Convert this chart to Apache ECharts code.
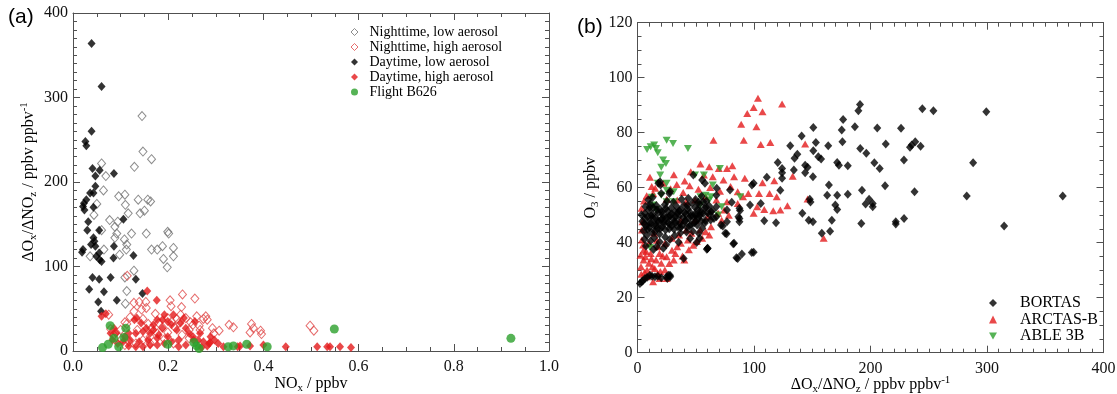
<!DOCTYPE html>
<html>
<head>
<meta charset="utf-8">
<script src="https://cdn.jsdelivr.net/npm/echarts@6/dist/echarts.min.js"></script>
<style>
  html, body { margin: 0; padding: 0; background: #fff; }
  #chart { width: 1117px; height: 394px; }
</style>
</head>
<body>
<div id="chart"></div>
<script>
// ---------- Panel (a): NOx [ppbv] vs dOx/dNOz ----------
const nightLow = [
  [0.145,278],[0.147,236],[0.165,227],[0.129,218],[0.060,222],[0.069,207],[0.064,190],[0.050,174],
  [0.044,161],[0.060,143],[0.096,183],[0.109,185],[0.110,173],[0.116,163],[0.137,179],[0.157,179],
  [0.163,177],[0.141,163],[0.150,166],[0.077,155],[0.094,153],[0.088,147],[0.092,139],[0.088,134],
  [0.108,132],[0.123,139],[0.112,120],[0.113,126],[0.065,120],[0.036,112],[0.154,139],[0.199,141],
  [0.201,139],[0.165,120],[0.177,120],[0.188,124],[0.211,122],[0.211,112],[0.190,109],[0.198,99],
  [0.128,95],[0.109,87],[0.113,71],[0.110,56],[0.098,114]
];
const nightHigh = [
  [0.230,67],[0.256,62],[0.204,60],[0.206,53],[0.228,52],[0.139,58],[0.114,89],[0.153,58],[0.128,57],
  [0.144,49],[0.113,32],[0.100,25],[0.090,22],[0.375,32],[0.379,27],[0.372,22],[0.394,24],[0.396,20],
  [0.498,30],[0.506,24],[0.328,31],[0.337,28],[0.307,24],[0.296,21],[0.279,41],[0.274,38],[0.260,41],
  [0.075,43],[0.128,47],[0.154,51],[0.173,44],[0.199,39],[0.226,43],[0.237,39],[0.282,37],[0.252,31],
  [0.244,25],[0.222,33],[0.207,35],[0.188,28],[0.177,21],[0.162,17],[0.147,13],[0.132,9],[0.117,11],
  [0.102,14],[0.086,19],[0.079,26],[0.109,34],[0.120,40],[0.147,38],[0.165,27],[0.180,33],[0.214,28],
  [0.199,22],[0.229,19],[0.267,25],[0.293,27],[0.244,15],[0.211,9],[0.162,9],[0.109,7],[0.135,25],
  [0.158,32],[0.192,14],[0.218,38],[0.247,34],[0.265,30]
];
const dayLow = [
  [0.039,364],[0.060,313],[0.039,260],[0.026,248],[0.028,243],[0.041,216],[0.056,214],[0.086,210],
  [0.047,207],[0.047,195],[0.036,187],[0.043,187],[0.028,179],[0.023,175],[0.024,167],[0.021,171],
  [0.043,170],[0.032,153],[0.030,143],[0.055,143],[0.106,156],[0.043,134],[0.045,130],[0.038,126],
  [0.021,120],[0.019,117],[0.047,124],[0.055,116],[0.049,112],[0.056,108],[0.060,106],[0.086,124],
  [0.127,113],[0.085,110],[0.041,87],[0.055,85],[0.079,87],[0.132,85],[0.034,73],[0.065,70],
  [0.146,68],[0.092,60],[0.053,58],[0.059,47]
];
const dayHigh = [
  [0.156,71],[0.176,60],[0.192,43],[0.134,39],[0.060,41],[0.069,44],[0.129,37],
  [0.132,21],[0.147,23],[0.162,21],[0.169,25],[0.180,19],[0.188,27],[0.177,15],[0.158,13],[0.139,11],
  [0.120,13],[0.105,11],[0.094,9],[0.083,13],[0.079,21],[0.086,27],[0.117,21],[0.199,35],[0.207,31],
  [0.218,25],[0.226,33],[0.237,27],[0.244,21],[0.252,17],[0.263,13],[0.274,11],[0.286,9],[0.267,21],
  [0.222,13],[0.207,11],[0.192,9],[0.177,7],[0.162,7],[0.147,5],[0.132,5],[0.117,6],[0.222,5],
  [0.237,7],[0.253,13],[0.288,10],[0.305,9],[0.297,13],[0.289,17],[0.188,37],[0.169,31],[0.154,27],
  [0.143,33],[0.233,39],[0.256,35],[0.211,43],[0.199,17],[0.177,37],[0.109,17],[0.090,21],[0.316,5],
  [0.346,5],[0.351,6],[0.372,6],[0.400,7],[0.447,5],[0.513,5],[0.534,5],[0.540,5],[0.561,5],
  [0.584,4],[0.282,6],[0.270,4]
];
const flightB626 = [
  [0.078,30],[0.111,27],[0.086,15],[0.107,16],[0.062,4],[0.074,8],[0.096,5],[0.199,8],[0.254,10],
  [0.260,6],[0.265,3],[0.326,5],[0.337,6],[0.365,8],[0.408,5],[0.549,26],[0.920,15]
];

// ---------- Panel (b): dOx/dNOz vs O3 [ppbv] ----------
const bortas = [
  [254,88],[244.5,88.7],[191,90.3],[189.6,88],[299.4,87.6],[176.5,84.8],[186.6,82.2],[205.8,81.7],
  [226.2,81.6],[150.9,81.9],[175.3,81],[140.9,78.8],[175.9,76.7],[153.1,76.4],[163.7,75.3],[131.1,75.3],
  [213.1,75.9],[243,75.1],[238.4,76.7],[235.4,75.5],[233.9,74.7],[191.2,74.3],[196.4,72.5],[150.9,73.4],
  [137.2,72.2],[134.8,70.7],[155.2,71.3],[157.6,70.4],[171.4,69.2],[172.9,68.2],[180.5,68],[203.3,69.1],
  [207.9,67],[228.7,70.1],[288.1,69.1],[120.4,69.2],[143.9,68.2],[146,67.4],[150.6,64],[143.9,65.4],
  [134.2,66.4],[124.1,65.4],[124.1,63.4],[124.1,67],[111,63.8],[98.2,61],[99.7,61.6],[212.5,60.7],
  [164.3,61],[122.6,59.1],[192.7,59.1],[237.8,58.5],[171.4,57.3],[180.5,57.6],[162.8,57.3],[282.6,57],
  [365,57],[198.8,55.8],[195.8,54.1],[201.9,54.3],[169.8,53.7],[171.4,52.1],[105.8,54.3],[96.6,53.7],
  [147.9,55.8],[148.5,54.8],[201.9,53.1],[87.5,52.5],[76.8,51.9],[141.5,50.7],[87.5,48.8],[87.5,47.6],
  [108.8,48],[118.9,47.3],[147,48.2],[150.6,47.6],[166.8,48.2],[192.1,47],[221.7,47.6],[221.7,46.8],
  [228.8,48.8],[314.7,46.1],[158.2,43.4],[165.3,44.2],[76.8,47.6],[73.2,46.1],[75.3,43.4],[82.9,39.8],
  [86,34.3],[89.6,35.9],[99.7,36.5],[60.1,37.9],[39.6,34.3],[26.5,28.2],[28.1,27.6],[25.6,27],
  [19.3,62.2],[19.8,61],[20.4,57.9],[27.4,57.9],[47.9,64.6],[55.5,62.8],[67.7,49.4],[67.7,53.1],
  [59.5,37.6],[53.4,41.6],[56.4,54.9],[63.1,51.3],[65.6,48.8],[67.7,57.3],[68,59.8],[79.4,59.2],
  [80.9,54.7],[88,51.7],[86.6,49.4],[71.7,46.4],[76.5,43.3],[82.2,39.6],[60.2,38],[84.9,34.5],
  [98.1,36.4],[22.2,38],[16.5,38.6],[5.9,41.3],[17.9,61.6],[27.9,58.6],[52.2,54.7],[57.9,61.6],
  [2.1,25.2],[3.6,25.8],[4.6,26.2],[6.4,27],[8.3,27.4],[10.7,28.2],[12.5,27.8],[15,27.6],[17.4,27.8],
  [20.4,27.3],[25,27.6],[27.9,28.2],
  [4.2,47.8],[5.1,44.3],[6.3,50.6],[6.8,53.2],[7.5,46.1],[8.1,42.7],[8.8,49.4],[9.6,51.8],[10.2,45.5],
  [10.9,54.1],[11.5,47.2],[12.3,43.8],[12.8,50.3],[13.6,52.7],[14.1,46.4],[14.9,44.1],[15.5,48.9],
  [16.2,53.5],[16.9,45.2],[17.6,50.8],[18.2,47.6],[18.9,43.2],[19.7,52.1],[20.3,48.4],[21.1,45.7],
  [21.8,50.2],[22.6,46.9],[23.4,53.8],[24.1,44.6],[24.8,49.1],[25.7,51.5],[26.3,47.3],[27.2,45.1],
  [28.0,49.8],[28.9,52.6],[29.6,46.2],[30.4,48.7],[31.3,44.9],[32.1,51.2],[33.0,47.5],[33.8,53.1],
  [34.7,45.8],[35.5,49.6],[36.4,47.1],[37.2,51.9],[38.1,46.3],[39.0,49.2],[39.9,53.6],[40.7,47.8],
  [41.6,50.4],[42.5,45.6],[43.3,52.3],[44.2,48.9],[45.1,51.1],[46.0,46.7],[46.8,54.4],[47.7,49.5],
  [48.6,47.2],[49.4,52.8],[50.3,50.1],[51.2,46.4],[52.1,48.7],[53.0,53.9],[53.8,51.4],[54.7,47.9],
  [55.6,45.3],[56.5,50.6],[57.4,52.5],[58.3,48.1],[59.2,55.2],[60.1,50.9],[61.4,53.4],[62.8,48.3],
  [64.3,51.7],[11.2,40.6],[14.4,41.8],[19.1,40.3],[23.7,42.1],[27.8,41.2],[31.9,42.6],[36.8,43.5],
  [42.1,43.9],[47.5,44.2],[52.6,43.4],[9.3,55.6],[12.9,56.4],[25.4,55.1],[30.8,54.7],[37.9,55.8],
  [43.6,56.2],[49.8,55.7],[55.1,56.9],[7.2,38.8],[13.7,37.5],[24.6,39.3],[35.3,40.2],[45.2,41.5],
  [50.8,40.1],[6.5,48.9],[9.9,47.4],[13.2,49.1],[17.3,47.9],[21.5,49.0],[26.8,49.4],[31.7,47.6],
  [35.9,51.6],[40.3,50.9],[44.8,46.1],[48.9,50.3],[53.4,49.8],[57.8,47.2],[20.8,51.3],[29.3,50.5],
  [3.4,50.2],[5.8,46.8],[8.4,44.9],[11.8,49.8],[15.8,46.3],[19.4,45.1],[23.1,47.8],[27.6,46.6],
  [32.6,49.4],[36.9,45.4],[41.2,48.1],[45.7,49.7],[50.1,47.9],[54.2,50.6],[58.9,52.9],[62.1,50.2],
  [10.5,52.9],[16.7,51.9],[24.3,52.4],[34.4,50.8],[42.9,53.5],[51.6,52.1]
];
const arctasB = [
  [103.4,92.5],[124.1,90.4],[99.7,89.2],[107.3,87.6],[94.2,87],[89,83.1],[102.1,82.2],[91.2,77.3],
  [65.2,77.3],[105.8,75.7],[114,76.4],[143.9,75.9],[133.2,64.2],[117.4,62.5],[107.3,61.8],[146,55.9],
  [159.8,41.6],[128.7,53.4],[122.6,51.9],[116.5,51.6],[108.8,52.1],[99.7,50.7],[102.7,53.1],[95.1,57.9],
  [90.6,56.7],[82.9,64],[81.4,68],[76.8,67],[69.8,67],[61.6,67.6],[54,68.6],[45.7,65.8],[57,64.6],
  [64.6,64],[73.8,62.8],[79.9,60.4],[86,58.5],[92.1,63.4],[104.3,57.9],[113.4,57.9],[119.5,56.7],
  [86,54.3],[76.8,54.9],[67.7,55.5],[58.5,56.7],[49.4,55.5],[41.8,54.9],[34.1,55.5],[25,55.8],
  [10.7,63.8],[12.2,60.4],[13.4,57.9],[4.3,47.6],[3.7,44.6],[15.2,59.8],[22,61.6],
  [3.7,41],[5.2,37.3],[6.7,34.9],[9.8,32.5],[8.2,30.1],[12.8,31.3],[15.9,33.7],[11.3,36.1],[18.9,36.1],
  [20.4,32.5],[23.5,30.1],[17.4,28.8],[18.9,27],[13.4,25.8],[25,34.9],[29.6,37.3],[34.1,38.5],
  [31.1,33.7],[40.2,33.7],[37.2,39.8],[43.3,41],[47.9,39.1],[50.9,40.4],[55.5,41.6],[58.5,44],
  [63.1,45.8],[61.6,42.8],[53.9,44.6],[46.3,43.4],[41.8,44.6],[35.7,42.8],[29.6,41.6],[23.5,39.8],
  [17.4,38.5],[9.8,39.8],[14.3,43.4],[37.2,48.2],[49.4,48.2],[60.1,49.4],[69.2,50.7],[72.3,48.2],
  [78.4,50],[74.4,51.9],[5.2,33.7],[3,31.3],[8.2,27.6],[25,27],[6.1,29.2],[10.4,28.4],[14.8,30.6],
  [7.4,36.8],[21.6,35.2],[27.3,32.4],[16.6,40.9],[4.8,39.2],[11.9,34.2],[19.6,29.5],[32.5,36.1],
  [44.1,37.4],[38.6,35.2],[3.5,52.5],[5.6,55.2],[7.9,57.1],[28.4,59.6],[33.7,61.2],[39.2,58.3],
  [44.8,60.7],[52.3,59.4],[62.4,60.1],[70.8,58.7],[31.2,64.7],[40.5,62.4],[3.2,28.5],[2.6,35.4]
];
const able3B = [
  [8.2,73.9],[11.3,74.9],[14.3,75.5],[15.9,74.3],[17.4,72.7],[25,77.3],[30.5,76.1],[43.3,74.3],
  [22,70.1],[24.4,68.8],[20.4,67.4],[19.5,64.6],[17.4,61.6],[25,59.1],[31.1,58.5],[20.4,57.3],
  [12.2,56.5],[13.4,53.7],[15.9,52.1],[25,54.9],[31.1,54.9],[49.4,64.6],[57,64.6],[70.7,67],
  [54,56.7],[58.5,57.3],[63.1,56.7],[61.6,55.5],[64.6,61],[72.3,53.1],[69.2,50.1],[88.1,56.7],
  [10.7,38.3],[25,61.6],[54,53.7]
];

// axis ranges
const noxRange = { min: 0, max: 1.0, interval: 0.2, minor: 4 };
const ratioRangeA = { min: 0, max: 400, interval: 100, minor: 10 };
const ratioRangeB = { min: 0, max: 400, interval: 100, minor: 10 };
const o3Range = { min: 0, max: 120, interval: 20, minor: 4 };

const SERIF = '"Liberation Serif", "Times New Roman", serif';
const SANS = '"Liberation Sans", Arial, sans-serif';
const FRAME = '#505050';
const BLACK = '#000000';
const RED = '#e31a1c';
const RED_OPEN = '#e04848';
const GRAY_OPEN = '#707070';
const GREEN = '#2ca02c';
const DOWN_TRIANGLE = 'path://M0,0L10,0L5,9Z';

const GRID_A = { left: 73, top: 13, width: 476, height: 338 };
const GRID_B = { left: 637.5, top: 22.7, width: 466, height: 330 };

const richName = {
  b: { fontFamily: SERIF, fontSize: 16, lineHeight: 20, color: '#000', verticalAlign: 'middle' },
  s: { fontFamily: SERIF, fontSize: 11, lineHeight: 12, color: '#000', verticalAlign: 'bottom' },
  p: { fontFamily: SERIF, fontSize: 11, lineHeight: 12, color: '#000', verticalAlign: 'top' }
};

// Labelled axis: frame line + labels + title, no ticks of its own.
function labelAxis(range, extra) {
  return Object.assign({
    type: 'value',
    min: range.min, max: range.max, interval: range.interval,
    splitLine: { show: false },
    axisLine: { show: true, onZero: false, lineStyle: { color: FRAME, width: 1 } },
    axisTick: { show: false },
    minorTick: { show: false },
    nameMoveOverlap: false,
    nameTextStyle: { rich: richName }
  }, extra);
}

// Tick carrier: placed on the opposite edge via offset so that its outward
// ticks point into the plotting area.
function tickAxis(range, position, offset, showLine) {
  return {
    type: 'value', position: position, offset: offset,
    min: range.min, max: range.max, interval: range.interval,
    splitLine: { show: false },
    axisLine: { show: showLine, onZero: false, lineStyle: { color: FRAME, width: 1 } },
    axisTick: { show: true, inside: false, length: 7, lineStyle: { color: FRAME, width: 1 } },
    minorTick: { show: true, splitNumber: range.minor, length: 4, lineStyle: { color: FRAME, width: 1 } },
    axisLabel: { show: false }
  };
}

function tickLabels(margin, fmt) {
  return { show: true, margin: margin, fontFamily: SERIF, fontSize: 16, color: '#111', formatter: fmt };
}

const xAxes = [
  labelAxis(noxRange, { gridIndex: 0, position: 'bottom',
    axisLabel: tickLabels(8, v => v.toFixed(1)),
    name: '{b|NO}{s|x}{b| / ppbv}', nameLocation: 'middle', nameGap: 23 }),
  Object.assign(tickAxis(noxRange, 'top', -GRID_A.height, false), { gridIndex: 0 }),
  Object.assign(tickAxis(noxRange, 'bottom', -GRID_A.height, true), { gridIndex: 0 }),
  labelAxis(ratioRangeB, { gridIndex: 1, position: 'bottom',
    axisLabel: tickLabels(8, v => String(v)),
    name: '{b|ΔO}{s|x}{b|/ΔNO}{s|z}{b| / ppbv ppbv}{p|-1}', nameLocation: 'middle', nameGap: 22 }),
  Object.assign(tickAxis(ratioRangeB, 'top', -GRID_B.height, false), { gridIndex: 1 }),
  Object.assign(tickAxis(ratioRangeB, 'bottom', -GRID_B.height, true), { gridIndex: 1 })
];
const yAxes = [
  labelAxis(ratioRangeA, { gridIndex: 0, position: 'left',
    axisLabel: tickLabels(5, v => String(v)),
    name: '{b|ΔO}{s|x}{b|/ΔNO}{s|z}{b| / ppbv ppbv}{p|-1}', nameLocation: 'middle', nameGap: 34 }),
  Object.assign(tickAxis(ratioRangeA, 'right', -GRID_A.width, false), { gridIndex: 0 }),
  Object.assign(tickAxis(ratioRangeA, 'left', -GRID_A.width, true), { gridIndex: 0 }),
  labelAxis(o3Range, { gridIndex: 1, position: 'left',
    axisLabel: tickLabels(5, v => String(v)),
    name: '{b|O}{s|3}{b| / ppbv}', nameLocation: 'middle', nameGap: 37 }),
  Object.assign(tickAxis(o3Range, 'right', -GRID_B.width, false), { gridIndex: 1 }),
  Object.assign(tickAxis(o3Range, 'left', -GRID_B.width, true), { gridIndex: 1 })
];

const option = {
  animation: false,
  backgroundColor: '#fff',
  grid: [
    Object.assign({ containLabel: false, outerBoundsMode: 'none' }, GRID_A),
    Object.assign({ containLabel: false, outerBoundsMode: 'none' }, GRID_B)
  ],
  xAxis: xAxes,
  yAxis: yAxes,
  legend: [
    {
      data: [
        { name: 'Nighttime, low aerosol', icon: 'diamond', itemStyle: { color: 'rgba(255,255,255,0)', borderColor: GRAY_OPEN, borderWidth: 1 } },
        { name: 'Nighttime, high aerosol', icon: 'diamond', itemStyle: { color: 'rgba(255,255,255,0)', borderColor: RED_OPEN, borderWidth: 1 } },
        { name: 'Daytime, low aerosol', icon: 'diamond', itemStyle: { color: BLACK, borderWidth: 0 } },
        { name: 'Daytime, high aerosol', icon: 'diamond', itemStyle: { color: RED, borderWidth: 0 } },
        { name: 'Flight B626', icon: 'circle', itemStyle: { color: GREEN, borderWidth: 0 } }
      ],
      orient: 'vertical', left: 345.5, top: 20,
      itemWidth: 7, itemHeight: 7, itemGap: 1,
      selectedMode: false,
      textStyle: { fontFamily: SERIF, fontSize: 14, color: '#000', padding: [0, 0, 0, 6.5] }
    },
    {
      data: [
        { name: 'BORTAS', icon: 'diamond', itemStyle: { color: BLACK, borderWidth: 0 } },
        { name: 'ARCTAS-B', icon: 'triangle', itemStyle: { color: RED, borderWidth: 0 } },
        { name: 'ABLE 3B', icon: DOWN_TRIANGLE, itemStyle: { color: GREEN, borderWidth: 0 } }
      ],
      orient: 'vertical', left: 984, top: 290,
      itemWidth: 8, itemHeight: 8, itemGap: 0.5,
      selectedMode: false,
      textStyle: { fontFamily: SERIF, fontSize: 16, color: '#000', padding: [0, 0, 0, 18] }
    }
  ],
  graphic: [
    { type: 'text', left: 8, top: 7, style: { text: '(a)', font: '21px ' + SANS, fill: '#000' } },
    { type: 'text', left: 577, top: 17, style: { text: '(b)', font: '21px ' + SANS, fill: '#000' } }
  ],
  series: [
    { name: 'Nighttime, low aerosol', type: 'scatter', xAxisIndex: 0, yAxisIndex: 0, data: nightLow,
      symbol: 'diamond', symbolSize: [8, 9],
      itemStyle: { color: 'rgba(255,255,255,0)', borderColor: GRAY_OPEN, borderWidth: 1 } },
    { name: 'Nighttime, high aerosol', type: 'scatter', xAxisIndex: 0, yAxisIndex: 0, data: nightHigh,
      symbol: 'diamond', symbolSize: [8, 9],
      itemStyle: { color: 'rgba(255,255,255,0)', borderColor: RED_OPEN, borderWidth: 1 } },
    { name: 'Daytime, low aerosol', type: 'scatter', xAxisIndex: 0, yAxisIndex: 0, data: dayLow,
      symbol: 'diamond', symbolSize: [8, 9], itemStyle: { color: BLACK } },
    { name: 'Daytime, high aerosol', type: 'scatter', xAxisIndex: 0, yAxisIndex: 0, data: dayHigh,
      symbol: 'diamond', symbolSize: [8, 9], itemStyle: { color: RED } },
    { name: 'Flight B626', type: 'scatter', xAxisIndex: 0, yAxisIndex: 0, data: flightB626,
      symbol: 'circle', symbolSize: 9, itemStyle: { color: GREEN } },

    { name: 'ARCTAS-B', type: 'scatter', xAxisIndex: 3, yAxisIndex: 3, data: arctasB,
      symbol: 'triangle', symbolSize: [8, 7], itemStyle: { color: RED } },
    { name: 'ABLE 3B', type: 'scatter', xAxisIndex: 3, yAxisIndex: 3, data: able3B,
      symbol: DOWN_TRIANGLE, symbolSize: [8, 7], itemStyle: { color: GREEN } },
    { name: 'BORTAS', type: 'scatter', xAxisIndex: 3, yAxisIndex: 3, data: bortas,
      symbol: 'diamond', symbolSize: [8, 9], itemStyle: { color: BLACK } }
  ]
};

const chart = echarts.init(document.getElementById('chart'), null, { renderer: 'canvas' });
chart.setOption(option);
</script>
</body>
</html>
